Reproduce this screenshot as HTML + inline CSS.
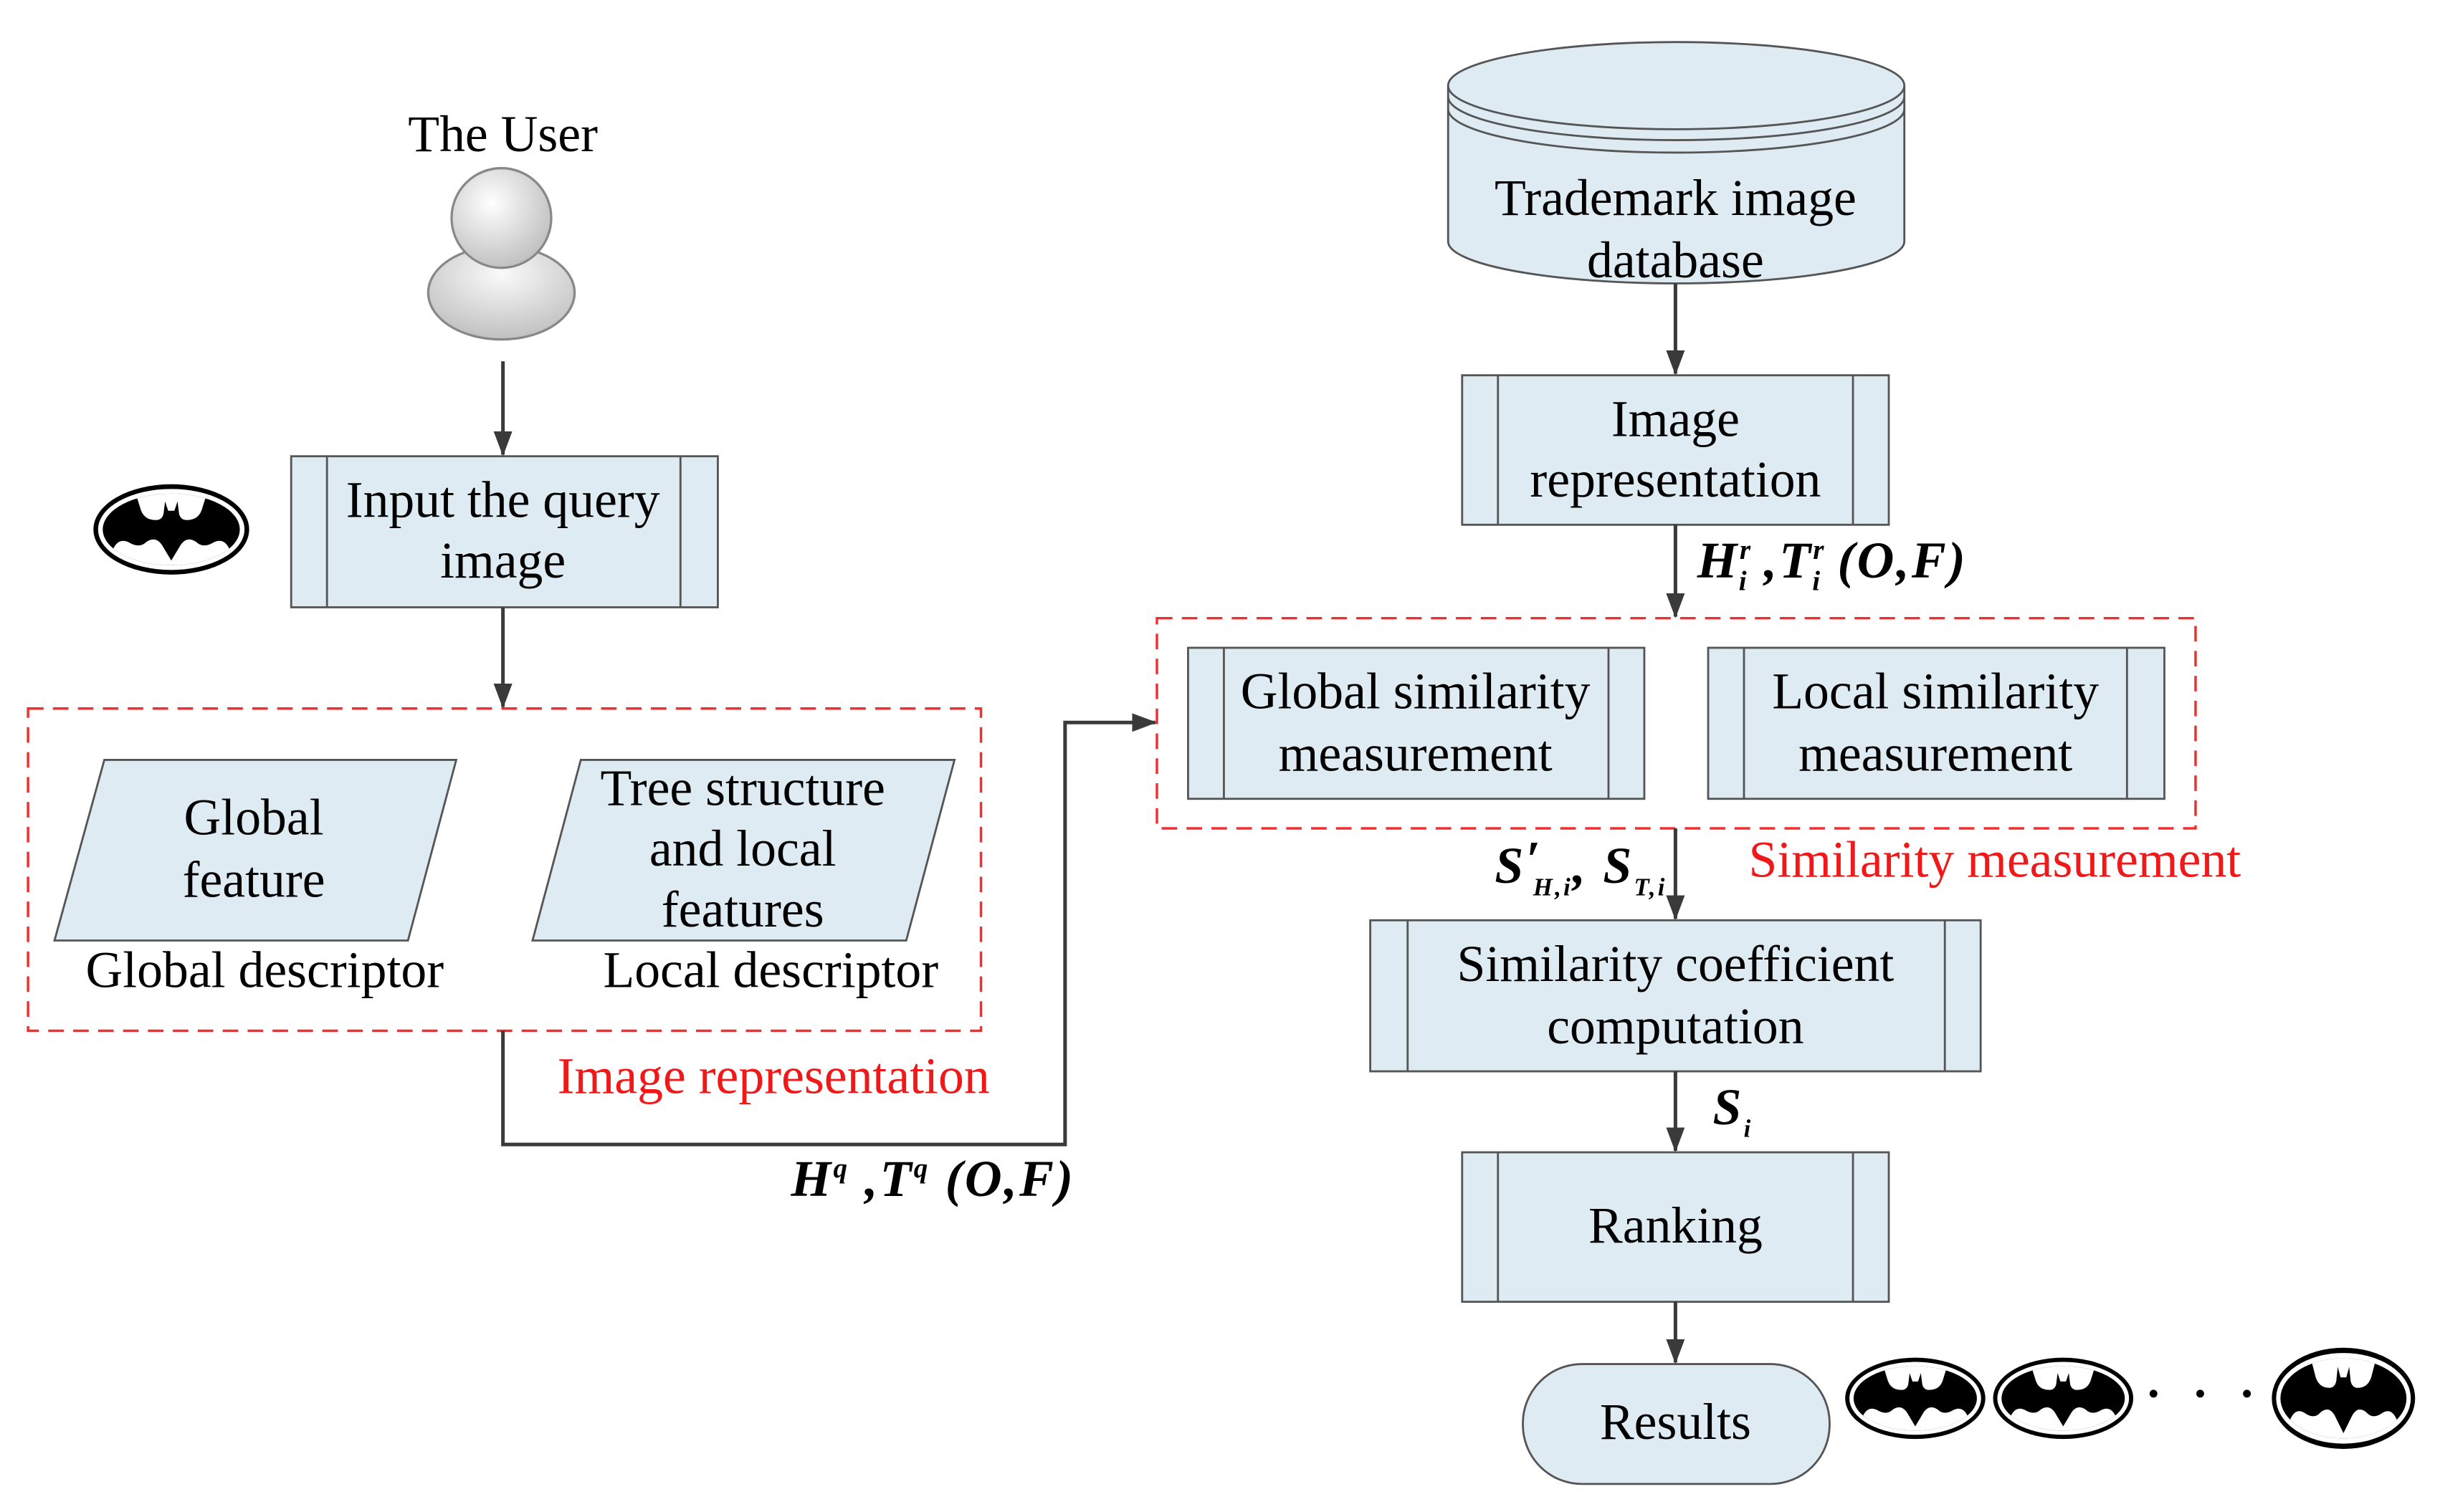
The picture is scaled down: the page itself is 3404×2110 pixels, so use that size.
<!DOCTYPE html>
<html><head><meta charset="utf-8"><style>
html,body{margin:0;padding:0;background:#fff;}
svg{display:block;}
text{font-family:"Liberation Serif",serif;}
</style></head><body>
<svg width="3404" height="2110" viewBox="0 0 1567 971" preserveAspectRatio="none" xmlns="http://www.w3.org/2000/svg">
<defs>
<marker id="ah" markerWidth="16" markerHeight="12" refX="15" refY="6" orient="auto" markerUnits="userSpaceOnUse">
<path d="M0,0 L16,6 L0,12 Z" fill="#3a3a3a"/></marker>
<radialGradient id="hg" cx="0.4" cy="0.35" r="0.7"><stop offset="0" stop-color="#fff"/><stop offset="1" stop-color="#bdbdbd"/></radialGradient>
<radialGradient id="bg" cx="0.5" cy="0.3" r="0.8"><stop offset="0" stop-color="#fafafa"/><stop offset="1" stop-color="#b8b8b8"/></radialGradient>
<clipPath id="ic"><ellipse cx="0" cy="0" rx="44" ry="23"/></clipPath>
<g id="bat">
<ellipse cx="0" cy="0" rx="50" ry="29" fill="#000"/>
<ellipse cx="0" cy="0" rx="47" ry="26" fill="#fff"/>
<ellipse cx="0" cy="0" rx="44" ry="23" fill="#000"/>
<g clip-path="url(#ic)" fill="#fff">
<path d="M-25,-30 L-20,-14 Q-18,-6 -10,-6 Q-6,-6 -5,-10 L-4,-18 L-2,-12 L2,-12 L4,-18 L5,-10 Q6,-6 10,-6 Q18,-6 20,-14 L25,-30 Z"/>
<path d="M-40,30 L-38,14 Q-34,4 -26,9 Q-20,12 -16,8 Q-10,4 -6,10 L0,20 L6,10 Q10,4 16,8 Q20,12 26,9 Q34,4 38,14 L40,30 Z"/>
</g>
</g>
</defs>
<g fill="#deebf3" stroke="#555" stroke-width="1.3">
<rect x="187" y="293" width="274" height="97"/><line x1="210" y1="293" x2="210" y2="390"/><line x1="437" y1="293" x2="437" y2="390"/>
<polygon points="67,488 293,488 262,604 35,604"/>
<polygon points="373,488 613,488 582,604 342,604"/>
<rect x="939" y="241" width="274" height="96"/><line x1="962" y1="241" x2="962" y2="337"/><line x1="1190" y1="241" x2="1190" y2="337"/>
<rect x="763" y="416" width="293" height="97"/><line x1="786" y1="416" x2="786" y2="513"/><line x1="1033" y1="416" x2="1033" y2="513"/>
<rect x="1097" y="416" width="293" height="97"/><line x1="1120" y1="416" x2="1120" y2="513"/><line x1="1366" y1="416" x2="1366" y2="513"/>
<rect x="880" y="591" width="392" height="97"/><line x1="904" y1="591" x2="904" y2="688"/><line x1="1249" y1="591" x2="1249" y2="688"/>
<rect x="939" y="740" width="274" height="96"/><line x1="962" y1="740" x2="962" y2="836"/><line x1="1190" y1="740" x2="1190" y2="836"/>
<rect x="978" y="876" width="197" height="77" rx="38"/>
<path d="M930,55 L930,155 A146.5,27 0 0 0 1223,155 L1223,55"/>
<ellipse cx="1076.5" cy="55" rx="146.5" ry="28"/>
<path d="M930,62 A146.5,28 0 0 0 1223,62" fill="none"/>
<path d="M930,70 A146.5,28 0 0 0 1223,70" fill="none"/>
</g>
<ellipse cx="322" cy="188" rx="47" ry="30" fill="url(#bg)" stroke="#888" stroke-width="1.5"/>
<circle cx="322" cy="140" r="32" fill="url(#hg)" stroke="#888" stroke-width="1.5"/>
<use href="#bat" transform="translate(110,340)"/>
<use href="#bat" transform="translate(1230,898) scale(0.9)"/>
<use href="#bat" transform="translate(1325,898) scale(0.9)"/>
<use href="#bat" transform="translate(1505,898) scale(0.92,1.12)"/>
<circle cx="1383" cy="895" r="2.5" fill="#000"/><circle cx="1413" cy="895" r="2.5" fill="#000"/><circle cx="1443" cy="895" r="2.5" fill="#000"/>
<g fill="none" stroke="#f03030" stroke-width="1.6" stroke-dasharray="10,6">
<rect x="18" y="455" width="612" height="207"/>
<rect x="743" y="397" width="667" height="135"/>
</g>
<g stroke="#3a3a3a" stroke-width="2.3" fill="none" marker-end="url(#ah)">
<line x1="323" y1="232" x2="323" y2="292"/>
<line x1="323" y1="390" x2="323" y2="454"/>
<polyline points="323,662 323,735 684,735 684,464 742,464"/>
<line x1="1076" y1="182" x2="1076" y2="240"/>
<line x1="1076" y1="337" x2="1076" y2="396"/>
<line x1="1076" y1="532" x2="1076" y2="590"/>
<line x1="1076" y1="688" x2="1076" y2="739"/>
<line x1="1076" y1="836" x2="1076" y2="875"/>
</g>
<g font-size="33" fill="#000" text-anchor="middle">
<text x="323" y="97">The User</text>
<text x="323" y="332">Input the query</text><text x="323" y="371">image</text>
<text x="163" y="536">Global</text><text x="163" y="576">feature</text>
<text x="477" y="517">Tree structure</text><text x="477" y="556">and local</text><text x="477" y="595">features</text>
<text x="170" y="634">Global descriptor</text><text x="495" y="634">Local descriptor</text>
<text x="1076" y="138">Trademark image</text><text x="1076" y="178">database</text>
<text x="1076" y="280">Image</text><text x="1076" y="319">representation</text>
<text x="909" y="455">Global similarity</text><text x="909" y="495">measurement</text>
<text x="1243" y="455">Local similarity</text><text x="1243" y="495">measurement</text>
<text x="1076" y="630">Similarity coefficient</text><text x="1076" y="670">computation</text>
<text x="1076" y="798">Ranking</text>
<text x="1076" y="924">Results</text>
</g>
<g font-size="33" fill="#f01818">
<text x="358" y="702">Image representation</text>
<text x="1123" y="563">Similarity measurement</text>
</g>
<g font-size="33" font-style="italic" font-weight="bold" fill="#000" letter-spacing="1.5">
<text x="508" y="768">H<tspan font-size="18" dy="-12">q</tspan><tspan dy="12"> ,T</tspan><tspan font-size="18" dy="-12">q</tspan><tspan dy="12"> (O,F)</tspan></text>
<text x="1090" y="371">H<tspan font-size="18" dy="-12">r</tspan><tspan font-size="18" dx="-9" dy="20">i</tspan><tspan dy="-8"> ,T</tspan><tspan font-size="18" dy="-12">r</tspan><tspan font-size="18" dx="-9" dy="20">i</tspan><tspan dy="-8"> (O,F)</tspan></text>
<text x="960" y="567">S<tspan dy="-4">′</tspan><tspan font-size="16" dx="-6" dy="12">H,i</tspan><tspan dy="-8">, S</tspan><tspan font-size="16" dy="8">T,i</tspan></text>
<text x="1100" y="722">S<tspan font-size="16" dy="8">i</tspan></text>
</g>
</svg>
</body></html>
